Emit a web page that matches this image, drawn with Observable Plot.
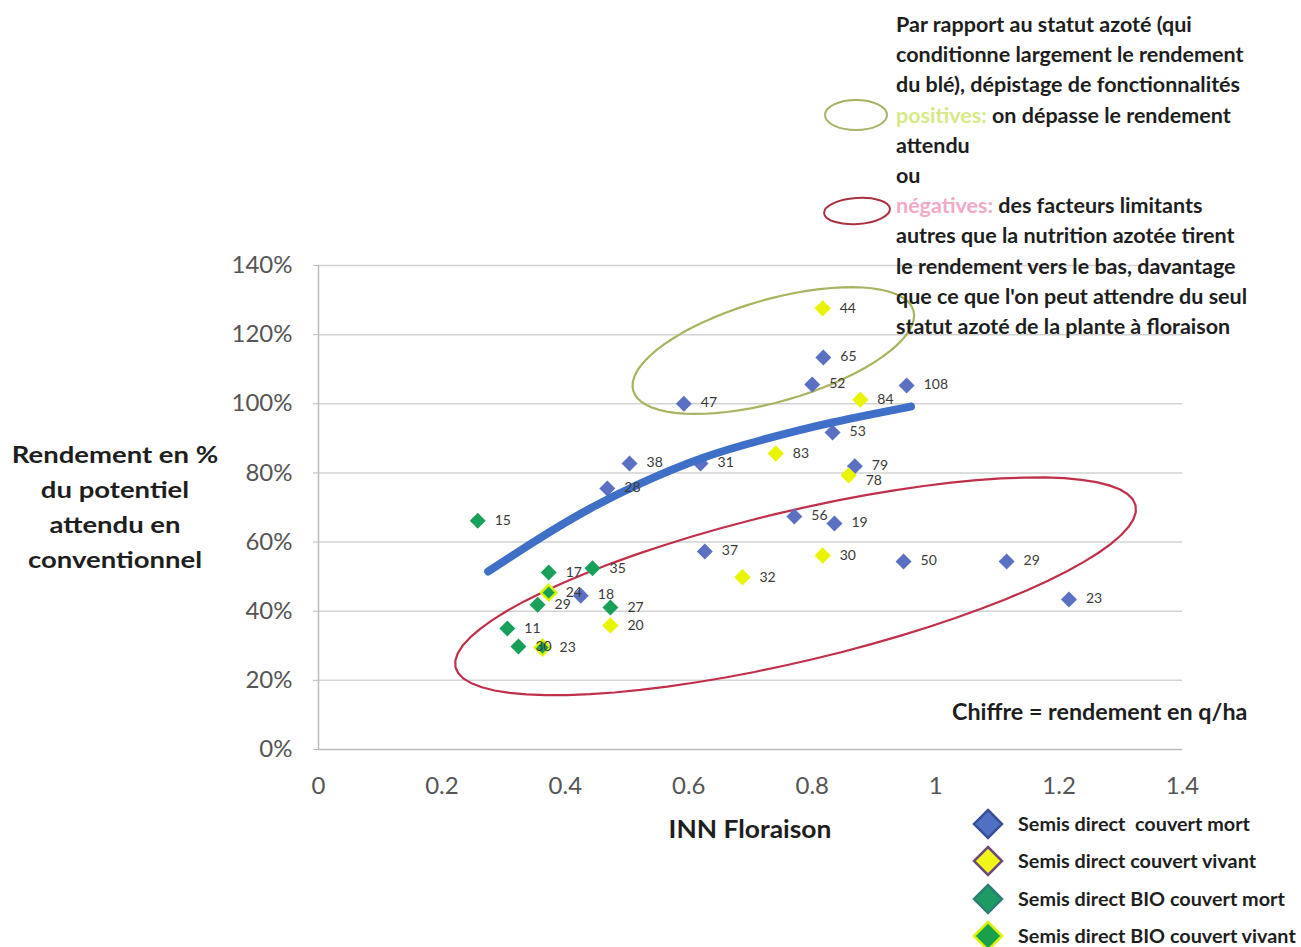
<!DOCTYPE html>
<html><head><meta charset="utf-8">
<script src="https://cdn.jsdelivr.net/npm/d3@7"></script>
<script src="https://cdn.jsdelivr.net/npm/@observablehq/plot@0.6"></script>
<style>
body{margin:0;background:#fff;}
#wrap{position:relative;width:1301px;height:947px;overflow:hidden;background:#fff;font-family:Lato,"Open Sans",sans-serif;}
#chart{position:absolute;left:0;top:0;}
.ov{position:absolute;font-weight:bold;color:#1e1e1e;white-space:nowrap;}
#note{left:896px;top:9px;font-size:21.5px;line-height:30.2px;}
#ylab{left:8px;width:214px;top:437px;font-size:22px;line-height:35px;text-align:center;transform:scaleX(1.25);transform-origin:center;}
#xlab{left:600px;width:300px;top:814px;font-size:24px;text-align:center;transform:scaleX(1.1);transform-origin:center;}
#chiffre{left:952px;top:698px;font-size:22px;transform:scaleX(1.06);transform-origin:left;}
#legend{left:970px;top:805px;font-size:18px;}
#legend div{height:37.5px;display:flex;align-items:center;}
#legend svg{margin-right:12px;}
#legend span{white-space:pre;display:inline-block;transform:scaleX(1.1);transform-origin:left;}
</style></head><body>
<div id="wrap">
<div id="chart"></div>
<svg class="ov" style="left:0;top:0" width="1301" height="260">
  <ellipse cx="856" cy="115" rx="31" ry="15" fill="none" stroke="#a9b166" stroke-width="2"/>
  <ellipse cx="857" cy="211" rx="33" ry="13" fill="none" stroke="#a8323f" stroke-width="2" transform="rotate(-4 857 211)"/>
</svg>
<div id="note" class="ov">Par rapport au statut azoté (qui<br>conditionne largement le rendement<br>du blé), dépistage de fonctionnalités<br><span style="color:#d6ea86">positives:</span> on dépasse le rendement<br>attendu<br>ou<br><span style="color:#f2a8c6">négatives:</span> des facteurs limitants<br>autres que la nutrition azotée tirent<br>le rendement vers le bas, davantage<br>que ce que l'on peut attendre du seul<br>statut azoté de la plante à floraison</div>
<div id="ylab" class="ov">Rendement en %<br>du potentiel<br>attendu en<br>conventionnel</div>
<div id="xlab" class="ov">INN Floraison</div>
<div id="chiffre" class="ov">Chiffre = rendement en q/ha</div>
<div id="legend" class="ov"></div>
</div>
<script>
// ---- data ----
// Semis direct couvert mort
const mortX   = [0.592, 0.504, 0.468, 0.619, 0.818, 0.800, 0.953, 0.833, 0.869, 0.771, 0.836, 0.626, 0.948, 1.115, 1.216, 0.425];
const mortY   = [100,   82.7,  75.5,  82.7,  113.4, 105.6, 105.3, 91.7,  81.9,  67.4,  65.4,  57.3,  54.4,  54.4,  43.4,  44.5];
const mortLab = ["47",  "38",  "28",  "31",  "65",  "52",  "108", "53",  "79",  "56",  "19",  "37",  "50",  "29",  "23",  "18"];
// Semis direct couvert vivant
const vivX    = [0.817, 0.878, 0.741, 0.859, 0.817, 0.687, 0.473];
const vivY    = [127.6, 101.2, 85.6,  79.3,  56.1,  49.8,  35.9];
const vivLab  = ["44",  "84",  "83",  "78",  "30",  "32",  "20"];
// Semis direct BIO couvert mort
const bioMortX   = [0.258, 0.373, 0.444, 0.355, 0.473, 0.306, 0.324];
const bioMortY   = [66.2,  51.2,  52.4,  41.9,  41.1,  35.0,  29.8];
const bioMortLab = ["15",  "17",  "35",  "29",  "27",  "11",  "30"];
// Semis direct BIO couvert vivant
const bioVivX   = [0.373, 0.363];
const bioVivY   = [45.4,  29.5];
const bioVivLab = ["24",  "23"];
// trend curve
const trendX = [0.275, 0.36, 0.441, 0.522, 0.62, 0.72, 0.833, 0.96];
const trendY = [51.5,  61.3, 69.8,  77.0,  84.2, 89.6, 94.6,  99.2];
// axis ticks
const xTicks = [0, 0.2, 0.4, 0.6, 0.8, 1, 1.2, 1.4];
const xTickLabels = ["0", "0.2", "0.4", "0.6", "0.8", "1", "1.2", "1.4"];
const yTicks = [0, 20, 40, 60, 80, 100, 120, 140];
const yTickLabels = ["0%", "20%", "40%", "60%", "80%", "100%", "120%", "140%"];
const seriesNames = ["Semis direct  couvert mort", "Semis direct couvert vivant", "Semis direct BIO couvert mort", "Semis direct BIO couvert vivant"];
// annotation ellipses: center and two conjugate semi-axes in data units
const greenEllipse = {c: [0.737, 115.4], u: [0.227, 11.6], v: [0.0227, -14.2]};
const redEllipse   = {c: [0.773, 47.2],  u: [0.551, 23.4], v: [0.0276, -21.1]};

// ---- build tables ----
const rows = (xs, ys, ls, s) => xs.map((x, i) => ({x, y: ys[i], label: ls[i], s}));
const mort = rows(mortX, mortY, mortLab, 0);
const viv = rows(vivX, vivY, vivLab, 1);
const bioMort = rows(bioMortX, bioMortY, bioMortLab, 2);
const bioViv = rows(bioVivX, bioVivY, bioVivLab, 3);
const trend = trendX.map((x, i) => ({x, y: trendY[i]}));
const ell = (e) => d3.range(0, 73).map(i => {
  const t = i / 72 * 2 * Math.PI;
  return {x: e.c[0] + e.u[0] * Math.cos(t) + e.v[0] * Math.sin(t), y: e.c[1] + e.u[1] * Math.cos(t) + e.v[1] * Math.sin(t)};
});

const colBlue = "#5b70c2", colYellow = "#e9f500", colGreen = "#16a05a";
const labelOpts = {x: "x", y: "y", text: "label", textAnchor: "start", dx: 17, fontSize: 14, fill: "#3a3a3a"};

const chart = Plot.plot({
  width: 1301, height: 947,
  marginLeft: 318, marginRight: 119, marginTop: 265, marginBottom: 198,
  x: {domain: [0, 1.4]},
  y: {domain: [0, 140]},
  style: {fontFamily: "Lato, 'Open Sans', sans-serif", background: "transparent", overflow: "visible"},
  marks: [
    Plot.ruleY(yTicks.filter(d => d > 0), {x1: 0, x2: 1.4, stroke: "#d3d3d3", strokeWidth: 1.5}),
    Plot.ruleY([0], {x1: 0, x2: 1.4, stroke: "#bcbcbc", strokeWidth: 1.5}),
    Plot.ruleX([0], {y1: 0, y2: 140, stroke: "#bcbcbc", strokeWidth: 1.5}),
    Plot.axisY({ticks: yTicks, tickFormat: (d) => yTickLabels[yTicks.indexOf(d)], tickSize: 5, tickPadding: 21, fontSize: 24, color: "#555", stroke: "#bcbcbc", label: null}),
    Plot.axisX({ticks: xTicks, tickFormat: (d) => xTickLabels[xTicks.indexOf(d)], tickSize: 0, tickPadding: 27, fontSize: 24, color: "#555", label: null}),
    Plot.line(ell(greenEllipse), {x: "x", y: "y", stroke: "#a9b360", strokeWidth: 2.2, curve: "linear-closed"}),
    Plot.line(ell(redEllipse), {x: "x", y: "y", stroke: "#c0304a", strokeWidth: 2.2, curve: "linear-closed"}),
    Plot.dot(mort, {x: "x", y: "y", symbol: "diamond2", r: 7.2, fill: colBlue}),
    Plot.dot(viv, {x: "x", y: "y", symbol: "diamond2", r: 7.4, fill: colYellow}),
    Plot.dot(bioMort, {x: "x", y: "y", symbol: "diamond2", r: 7.2, fill: colGreen}),
    Plot.dot(bioViv, {x: "x", y: "y", symbol: "diamond2", r: 7, fill: colGreen, stroke: "#d8f500", strokeWidth: 2.5}),
    Plot.line(trend, {x: "x", y: "y", stroke: "#3f6fc6", strokeWidth: 8, curve: "natural"}),
    Plot.text(mort, {...labelOpts, dy: -1}),
    Plot.text(viv.filter(d => d.label !== "78"), labelOpts),
    Plot.text(viv.filter(d => d.label === "78"), {...labelOpts, dy: 5}),
    Plot.text(bioMort, labelOpts),
    Plot.text(bioViv, labelOpts)
  ]
});
document.getElementById("chart").appendChild(chart);

// legend
const legendStyles = [
  {fill: "#5170c4", stroke: "#3a4f96"},
  {fill: "#f1f51a", stroke: "#6b4a7a"},
  {fill: "#1d9b63", stroke: "#2c7f73"},
  {fill: "#1aa04a", stroke: "#d8f500"}
];
const lg = document.getElementById("legend");
seriesNames.forEach((name, i) => {
  const row = document.createElement("div");
  const st = legendStyles[i];
  row.innerHTML = `<svg width="36" height="34" viewBox="-18 -17 36 34"><path d="M0,-14L14,0L0,14L-14,0Z" fill="${st.fill}" stroke="${st.stroke}" stroke-width="2.5"/></svg><span>${name}</span>`;
  lg.appendChild(row);
});
</script>
</body></html>
